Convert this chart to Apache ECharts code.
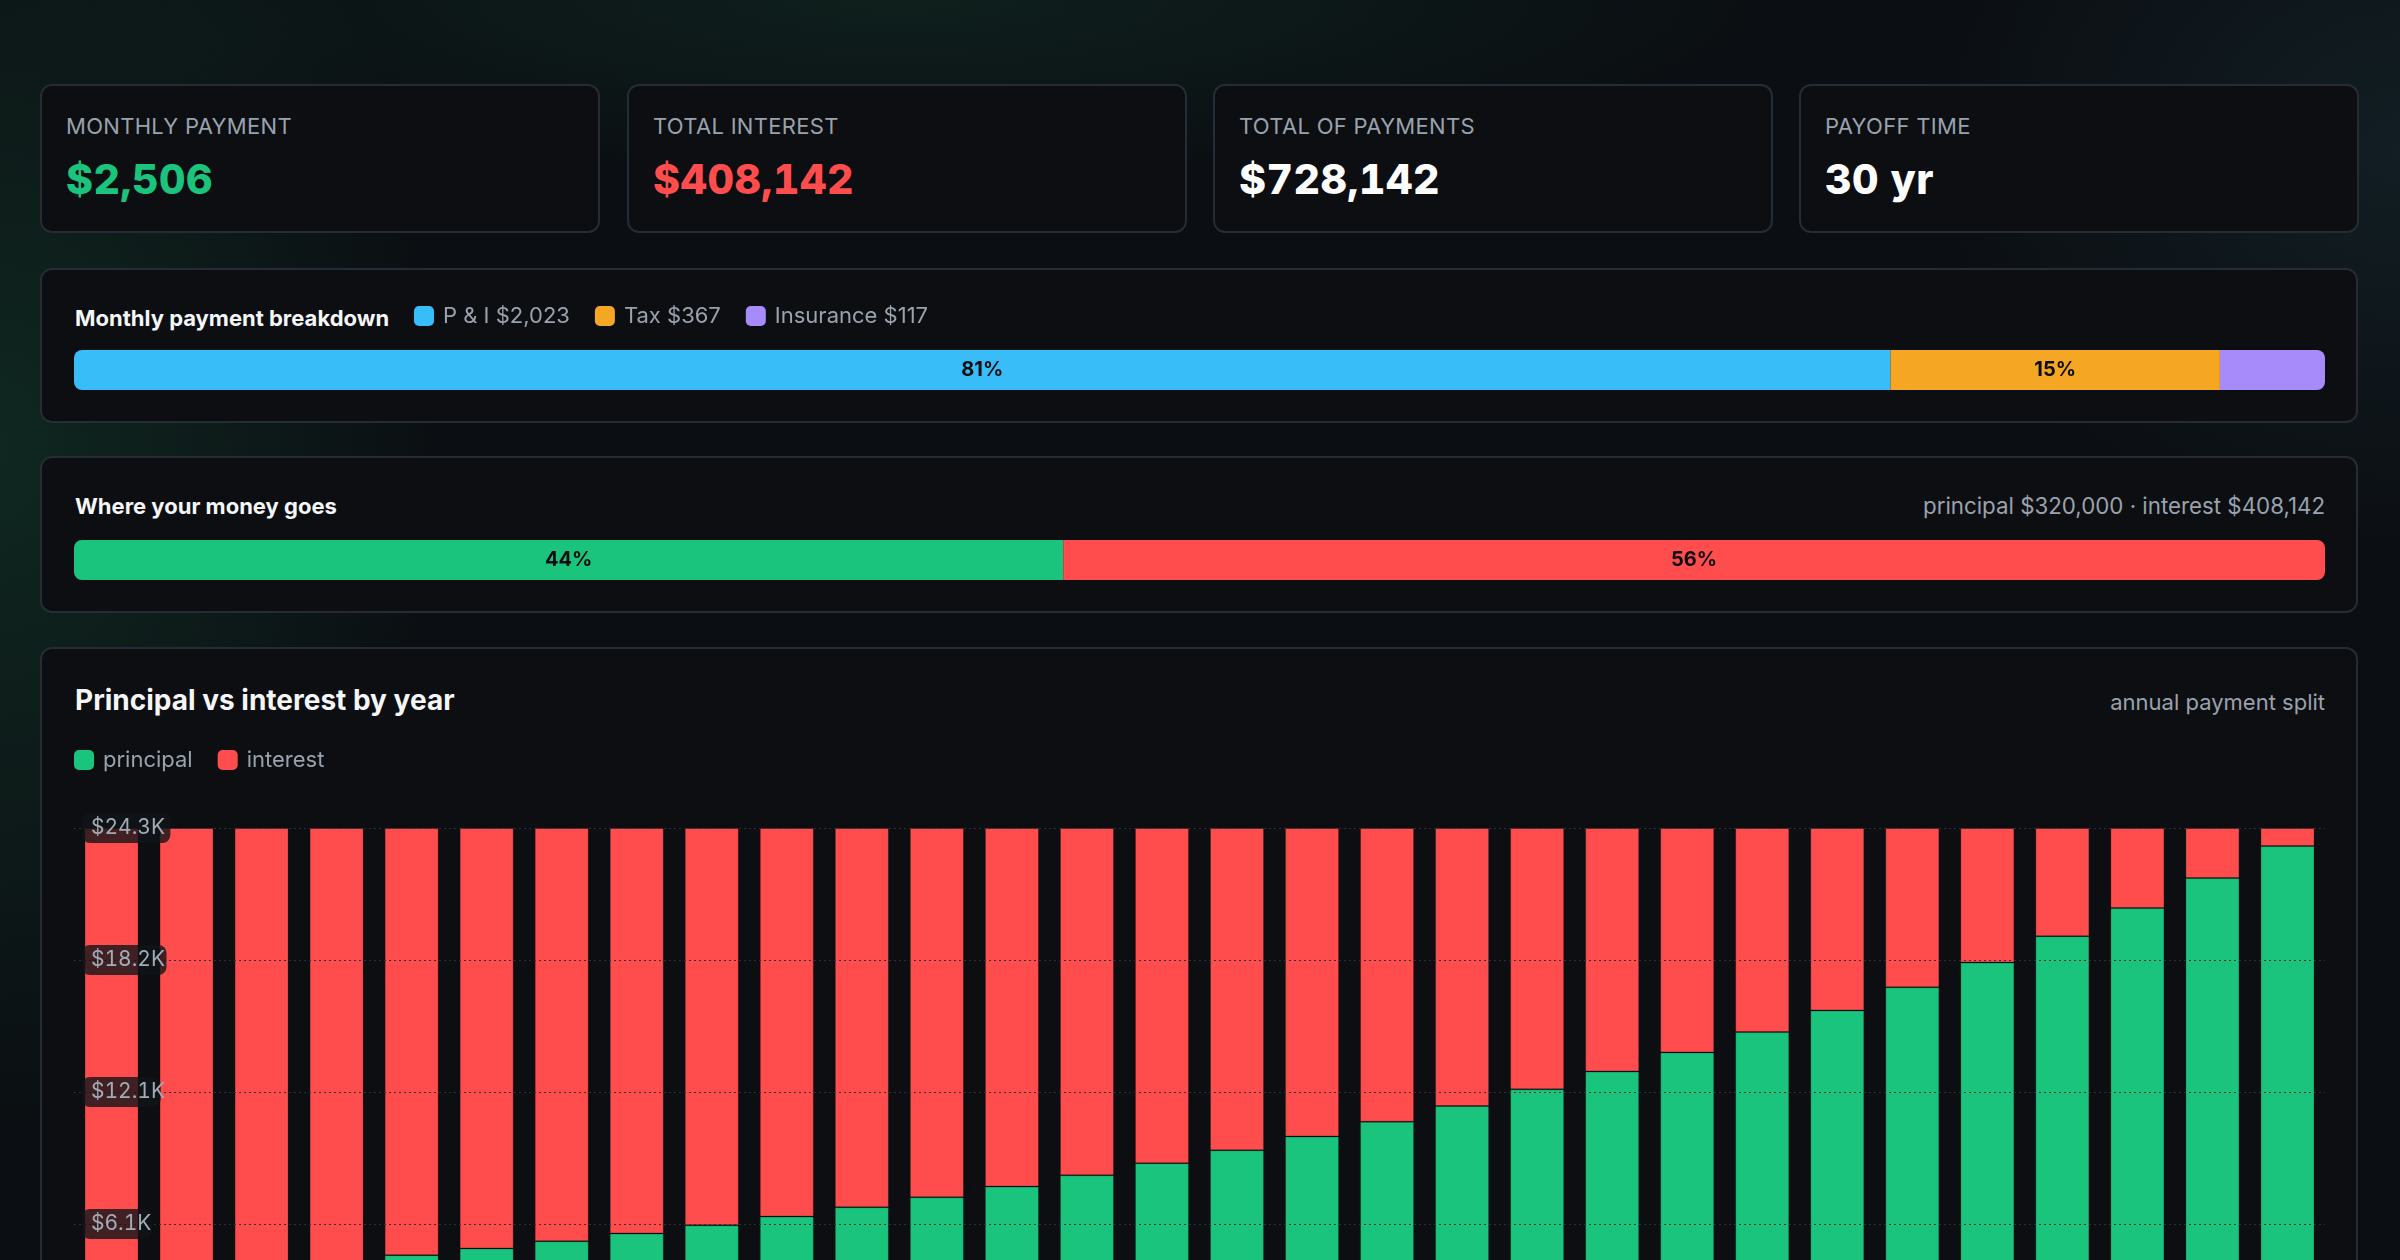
<!DOCTYPE html>
<html>
<head>
<meta charset="utf-8">
<title>Mortgage breakdown</title>
<script src="https://cdn.jsdelivr.net/npm/echarts@6/dist/echarts.min.js"></script>
<style>
  html, body { margin: 0; padding: 0; }
  body {
    width: 2400px;
    height: 1260px;
    overflow: hidden;
    position: relative;
    font-family: Inter, "Noto Sans", sans-serif;
    background-color: #0b0e12;
    background-image:
      radial-gradient(ellipse 650px 1000px at 0px 450px, rgba(24, 92, 62, 0.32), rgba(24, 92, 62, 0) 70%),
      radial-gradient(ellipse 1300px 260px at 900px 0px, rgba(22, 78, 56, 0.28), rgba(22, 78, 56, 0) 70%),
      radial-gradient(ellipse 700px 600px at 2400px 150px, rgba(40, 86, 96, 0.22), rgba(40, 86, 96, 0) 70%);
  }
  .card {
    position: absolute;
    box-sizing: border-box;
    background: #0c0e12;
    border: 2px solid #252c35;
    border-radius: 12px;
  }
  .kpi { top: 84px; width: 560px; height: 149px; }
  .kpi .label {
    position: absolute; left: 24px; top: 29px;
    font-size: 22px; line-height: 22px; letter-spacing: 0.3px;
    color: #9aa2ad;
  }
  .kpi .value {
    position: absolute; left: 24px; top: 73px;
    font-size: 41px; line-height: 41px; font-weight: 800; letter-spacing: 0.5px;
    font-variant-numeric: tabular-nums;
    color: #ffffff;
  }
  .panel-title {
    position: absolute; left: 33px; top: 37px;
    font-size: 22px; line-height: 22px; font-weight: 700; color: #f5f6f8;
  }
  .panel-note {
    position: absolute; right: 31px; top: 37px;
    font-size: 22.3px; line-height: 22px; color: #9aa2ad;
  }
  .chart { position: absolute; }
  #annual { font-variant-numeric: tabular-nums; }
</style>
</head>
<body>

<div class="card kpi" style="left:40px">
  <div class="label">MONTHLY PAYMENT</div>
  <div class="value" style="color:#1bc47d">$2,506</div>
</div>
<div class="card kpi" style="left:627px">
  <div class="label">TOTAL INTEREST</div>
  <div class="value" style="color:#ff4d4d">$408,142</div>
</div>
<div class="card kpi" style="left:1213px">
  <div class="label">TOTAL OF PAYMENTS</div>
  <div class="value">$728,142</div>
</div>
<div class="card kpi" style="left:1799px">
  <div class="label">PAYOFF TIME</div>
  <div class="value">30 yr</div>
</div>

<div class="card" style="left:40px; top:268px; width:2318px; height:155px">
  <div class="panel-title">Monthly payment breakdown</div>
  <div id="breakdown" class="chart" style="left:32px; top:28px; width:2251px; height:92px"></div>
</div>

<div class="card" style="left:40px; top:456px; width:2318px; height:157px">
  <div class="panel-title">Where your money goes</div>
  <div class="panel-note">principal $320,000 · interest $408,142</div>
  <div id="money" class="chart" style="left:32px; top:82px; width:2251px; height:40px"></div>
</div>

<div class="card" style="left:40px; top:647px; width:2318px; height:820px">
  <div class="panel-title" style="font-size:28px; line-height:28px; font-weight:700">Principal vs interest by year</div>
  <div class="panel-note" style="top:42px; font-size:22px">annual payment split</div>
  <div id="annual" class="chart" style="left:32px; top:91px; width:2251px; height:700px"></div>
</div>

<script>
// monthly payment breakdown
const breakdownNames = ["P & I", "Tax", "Insurance"];
const breakdownValues = [2023, 367, 117];

// where the money goes
const moneyNames = ["principal", "interest"];
const moneyValues = [320000, 408142];

// annual split, years 1..30
const years = ["1", "2", "3", "4", "5", "6", "7", "8", "9", "10",
  "11", "12", "13", "14", "15", "16", "17", "18", "19", "20",
  "21", "22", "23", "24", "25", "26", "27", "28", "29", "30"];
const principalByYear = [3577, 3816, 4072, 4345, 4636, 4946, 5277, 5631, 6008, 6410,
  6840, 7298, 7786, 8308, 8864, 9458, 10091, 10767, 11488, 12258,
  13079, 13955, 14889, 15886, 16950, 18085, 19297, 20589, 21968, 23439];
const interestByYear = [20694, 20455, 20199, 19926, 19635, 19325, 18994, 18640, 18263, 17861,
  17431, 16973, 16485, 15963, 15407, 14813, 14180, 13504, 12783, 12013,
  11192, 10316, 9382, 8385, 7321, 6186, 4974, 3682, 2303, 832];
const annualPayment = 24271;
const yTickCount = 4;

const GREEN = "#1bc47d";
const RED = "#ff4d4d";
const breakdownColors = ["#38bdf8", "#f5a623", "#a78bfa"];
const labelInk = "#0b0d11";
const mutedText = "#9aa2ad";

const legendBase = {
  padding: 0,
  icon: "roundRect",
  itemWidth: 20,
  itemHeight: 20,
  itemGap: 25,
  itemStyle: { borderWidth: 0 },
  textStyle: { color: mutedText, fontSize: 22, fontFamily: "Inter", padding: [0, 0, 0, 4] },
};

function stackedStrip(el, names, values, colors, legend) {
  const chart = echarts.init(el);
  const total = values.reduce((a, b) => a + b, 0);
  const last = values.length - 1;
  chart.setOption({
    animation: false,
    legend: legend || { show: false },
    grid: { left: 0, right: 0, top: legend ? 52 : 0, height: 40 },
    xAxis: { type: "value", min: 0, max: total, show: false },
    yAxis: { type: "category", data: ["all"], show: false },
    series: values.map((v, i) => {
      const pct = Math.round((v / total) * 100);
      return {
        name: names[i],
        type: "bar",
        stack: "strip",
        barWidth: 40,
        data: [v],
        itemStyle: {
          color: colors[i],
          borderRadius: i === 0 ? [8, 0, 0, 8] : i === last ? [0, 8, 8, 0] : 0,
        },
        label: {
          show: pct >= 10,
          position: "inside",
          formatter: pct + "%",
          color: labelInk,
          fontFamily: "Inter",
          fontWeight: 700,
          fontSize: 20,
        },
      };
    }),
  });
  return chart;
}

stackedStrip(
  document.getElementById("breakdown"),
  breakdownNames.map((n, i) => n + " $" + breakdownValues[i].toLocaleString("en-US")),
  breakdownValues,
  breakdownColors,
  Object.assign({}, legendBase, { left: 340, top: 7 })
);

stackedStrip(document.getElementById("money"), moneyNames, moneyValues, [GREEN, RED], null);

const annual = echarts.init(document.getElementById("annual"));
annual.setOption({
  animation: false,
  legend: Object.assign({}, legendBase, { left: 0, top: 9, itemGap: 25 }),
  grid: { left: 0, right: 0, top: 88, height: 528 },
  xAxis: {
    type: "category",
    data: years,
    axisLine: { show: false },
    axisTick: { show: false },
    axisLabel: { color: mutedText, fontSize: 20 },
  },
  yAxis: {
    type: "value",
    min: 0,
    max: annualPayment,
    interval: annualPayment / yTickCount,
    axisLine: { show: false },
    axisTick: { show: false },
    splitLine: { lineStyle: { color: "#27323c", type: [2, 3], width: 1 } },
    axisLabel: {
      inside: true,
      margin: 8,
      color: "#a3abb6",
      fontSize: 21,
      fontFamily: "Inter",
      backgroundColor: "rgba(16, 21, 25, 0.8)",
      borderRadius: 8,
      padding: [5, 8, 4, 9],
      formatter: v => (v === 0 ? "" : "$" + (v / 1000).toFixed(1) + "K"),
    },
    z: 5,
  },
  series: [
    {
      name: "principal",
      type: "bar",
      stack: "year",
      barCategoryGap: "28%",
      data: principalByYear,
      itemStyle: { color: GREEN, borderColor: "rgba(12,14,18,0.25)", borderWidth: 1 },
    },
    {
      name: "interest",
      type: "bar",
      stack: "year",
      barCategoryGap: "28%",
      data: interestByYear,
      itemStyle: { color: RED, borderColor: "rgba(12,14,18,0.25)", borderWidth: 1 },
    },
  ],
});
</script>
</body>
</html>
